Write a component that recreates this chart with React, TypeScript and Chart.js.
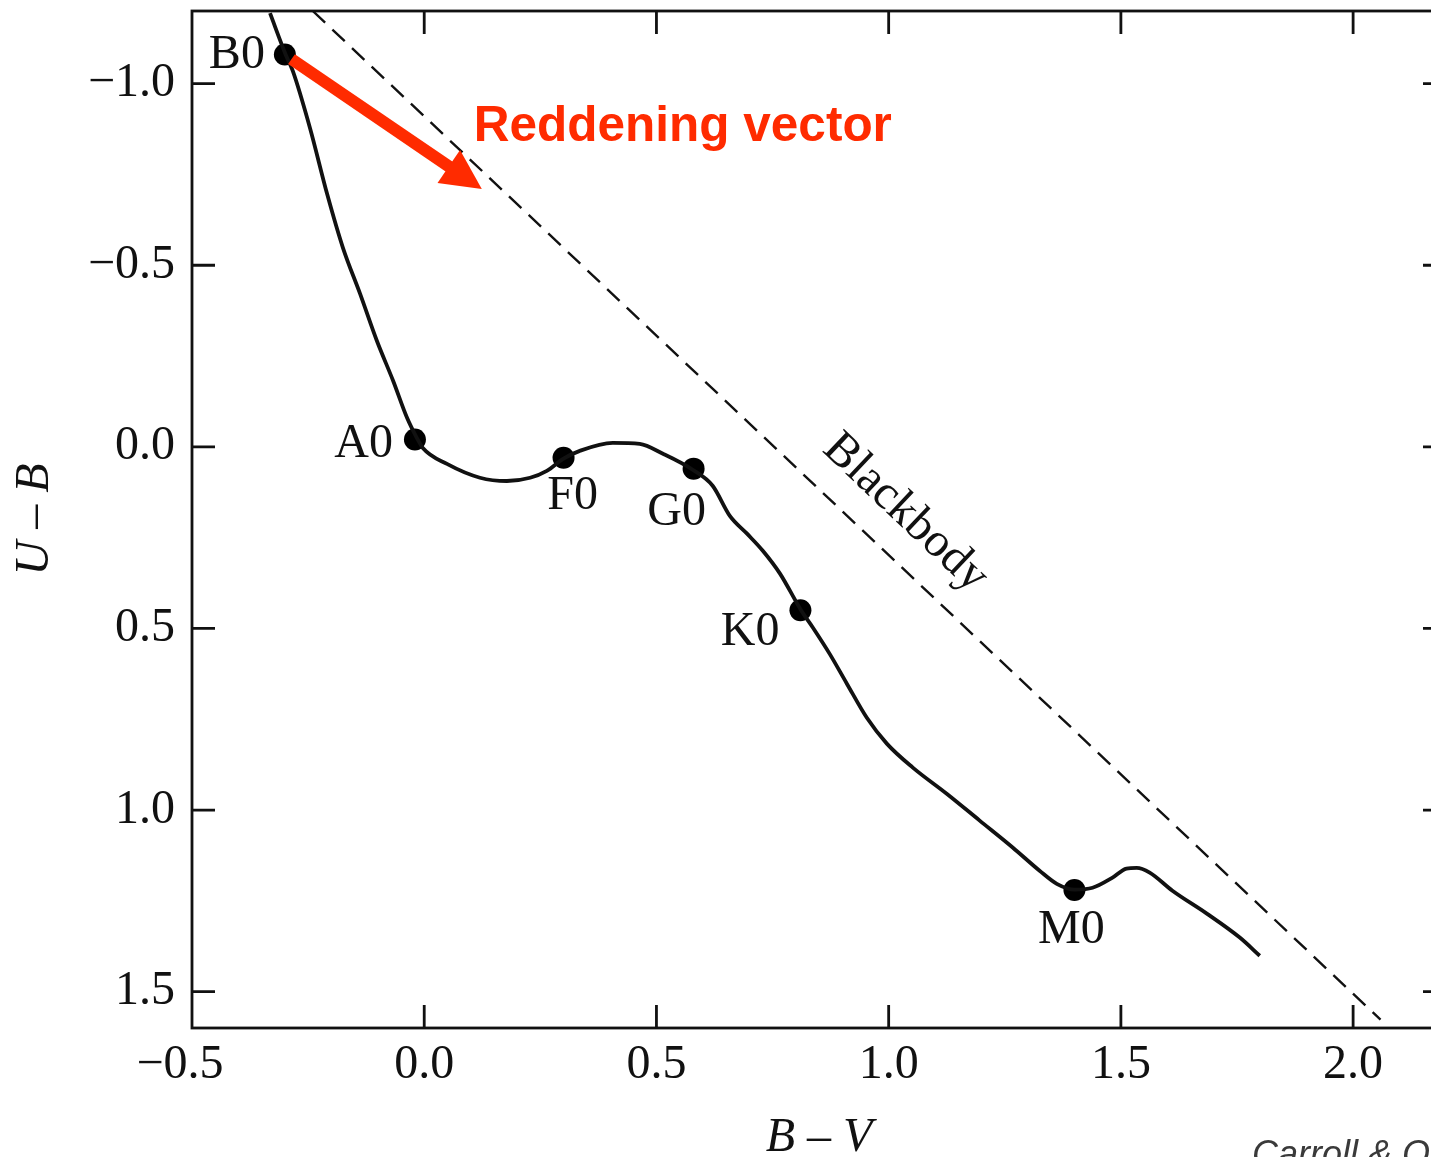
import { useEffect, useRef } from "react";
import { Chart, registerables } from "chart.js";

Chart.register(...registerables);

// Main-sequence two-colour track (B−V, U−B)
const TRACK_BV = [
  -0.332, -0.298, -0.283, -0.246, -0.209, -0.175, -0.138, -0.102, -0.067, -0.037,
  -0.016, -0.003, 0.049, 0.12, 0.178, 0.228, 0.264, 0.299, 0.335, 0.406,
  0.464, 0.514, 0.578, 0.621, 0.658, 0.695, 0.729, 0.766, 0.811, 0.837,
  0.873, 0.91, 0.953, 0.996, 1.052, 1.125, 1.196, 1.267, 1.325, 1.362,
  1.401, 1.439, 1.482, 1.512, 1.534, 1.562, 1.611, 1.685, 1.756, 1.799,
];
const TRACK_UB = [
  -1.194, -1.079, -1.035, -0.878, -0.696, -0.548, -0.421, -0.292, -0.182, -0.08,
  -0.025, 0.003, 0.047, 0.085, 0.094, 0.085, 0.066, 0.033, 0.011, -0.011,
  -0.008, 0.019, 0.063, 0.107, 0.19, 0.239, 0.286, 0.349, 0.449, 0.498,
  0.57, 0.652, 0.746, 0.817, 0.883, 0.955, 1.029, 1.103, 1.167, 1.203,
  1.219, 1.214, 1.186, 1.161, 1.159, 1.172, 1.222, 1.285, 1.351, 1.401,
];

// Spectral class markers
const CLASS_NAMES = ["B0", "A0", "F0", "G0", "K0", "M0"];
const CLASS_BV = [-0.3, -0.02, 0.3, 0.58, 0.81, 1.4];
const CLASS_UB = [-1.08, -0.02, 0.03, 0.06, 0.45, 1.22];

// Blackbody line
const BLACKBODY_BV = [-0.24, 2.059];
const BLACKBODY_UB = [-1.2, 1.577];

// Reddening vector (from B0)
const REDDENING_FROM = [-0.3, -1.08];
const REDDENING_TO = [0.124, -0.71];

// Axis ticks
const X_TICKS = [-0.5, 0, 0.5, 1.0, 1.5, 2.0];
const Y_TICKS = [-1.0, -0.5, 0, 0.5, 1.0, 1.5];

// Label placement around each marker: [dx, dy, align]
const CLASS_LABEL_PLACEMENT: Record<string, [number, number, CanvasTextAlign]> = {
  B0: [-20, 1, "right"],
  A0: [-22, 5, "right"],
  F0: [9, 39, "center"],
  G0: [-17, 44, "center"],
  K0: [-21, 22, "right"],
  M0: [-3, 40, "center"],
};

const SERIF = "'Liberation Serif', 'Times New Roman', serif";
const SANS = "'Liberation Sans', Arial, Helvetica, sans-serif";
const INK = "#111";
const RED = "#ff2b00";
const TICK_LEN = 23;

const fmt = (v: number) => (v < 0 ? "\u2212" : "") + Math.abs(v).toFixed(1);

const framePlugin = {
  id: "frameTicks",
  afterDraw(chart: any) {
    const { ctx, chartArea: a, scales } = chart;
    const xs = scales.x;
    const ys = scales.y;
    ctx.save();
    ctx.strokeStyle = INK;
    ctx.lineWidth = 2.8;
    ctx.strokeRect(a.left, a.top, a.right - a.left, a.bottom - a.top);
    ctx.beginPath();
    for (const v of X_TICKS) {
      const px = xs.getPixelForValue(v);
      if (px <= a.left + 1 || px >= a.right - 1) continue;
      ctx.moveTo(px, a.bottom);
      ctx.lineTo(px, a.bottom - TICK_LEN);
      ctx.moveTo(px, a.top);
      ctx.lineTo(px, a.top + TICK_LEN);
    }
    for (const v of Y_TICKS) {
      const py = ys.getPixelForValue(v);
      if (py <= a.top + 1 || py >= a.bottom - 1) continue;
      ctx.moveTo(a.left, py);
      ctx.lineTo(a.left + TICK_LEN, py);
      ctx.moveTo(a.right, py);
      ctx.lineTo(a.right - TICK_LEN, py);
    }
    ctx.stroke();
    ctx.restore();
  },
};

const annotationPlugin = {
  id: "annotations",
  afterDatasetsDraw(chart: any) {
    const { ctx, scales } = chart;
    const xs = scales.x;
    const ys = scales.y;
    ctx.save();

    // spectral class labels
    ctx.fillStyle = INK;
    ctx.font = `48px ${SERIF}`;
    ctx.textBaseline = "middle";
    CLASS_NAMES.forEach((name, i) => {
      const [dx, dy, align] = CLASS_LABEL_PLACEMENT[name];
      ctx.textAlign = align;
      ctx.fillText(name, xs.getPixelForValue(CLASS_BV[i]) + dx, ys.getPixelForValue(CLASS_UB[i]) + dy);
    });

    // blackbody label, parallel to the dashed line
    const bx0 = xs.getPixelForValue(BLACKBODY_BV[0]);
    const by0 = ys.getPixelForValue(BLACKBODY_UB[0]);
    const bx1 = xs.getPixelForValue(BLACKBODY_BV[1]);
    const by1 = ys.getPixelForValue(BLACKBODY_UB[1]);
    const ang = Math.atan2(by1 - by0, bx1 - bx0);
    const len = Math.hypot(bx1 - bx0, by1 - by0);
    const ux = Math.cos(ang), uy = Math.sin(ang);
    const nx = uy, ny = -ux;
    const along = len * 0.528;
    const cx = bx0 + ux * along + nx * 42;
    const cy = by0 + uy * along + ny * 42;
    ctx.save();
    ctx.translate(cx, cy);
    ctx.rotate(ang);
    ctx.textAlign = "center";
    ctx.textBaseline = "middle";
    ctx.fillText("Blackbody", 0, 0);
    ctx.restore();

    // reddening vector arrow
    const sx = xs.getPixelForValue(REDDENING_FROM[0]);
    const sy = ys.getPixelForValue(REDDENING_FROM[1]);
    const tx = xs.getPixelForValue(REDDENING_TO[0]);
    const ty = ys.getPixelForValue(REDDENING_TO[1]);
    const a2 = Math.atan2(ty - sy, tx - sx);
    const dxu = Math.cos(a2), dyu = Math.sin(a2);
    const headLen = 40, headHalf = 20;
    const baseX = tx - dxu * headLen, baseY = ty - dyu * headLen;
    ctx.strokeStyle = RED;
    ctx.fillStyle = RED;
    ctx.lineWidth = 12;
    ctx.lineCap = "butt";
    ctx.beginPath();
    ctx.moveTo(sx + dxu * 8, sy + dyu * 8);
    ctx.lineTo(baseX + dxu * 2, baseY + dyu * 2);
    ctx.stroke();
    ctx.beginPath();
    ctx.moveTo(tx, ty);
    ctx.lineTo(baseX - dyu * headHalf, baseY + dxu * headHalf);
    ctx.lineTo(baseX + dyu * headHalf, baseY - dxu * headHalf);
    ctx.closePath();
    ctx.fill();

    ctx.font = `bold 49.5px ${SANS}`;
    ctx.textAlign = "left";
    ctx.textBaseline = "alphabetic";
    ctx.fillText("Reddening vector", tx - 8, ty - 48);

    ctx.restore();
  },
  afterDraw(chart: any) {
    const { ctx } = chart;
    ctx.save();
    ctx.fillStyle = "#3a3a3a";
    ctx.font = `italic 36px ${SANS}`;
    ctx.textAlign = "left";
    ctx.textBaseline = "alphabetic";
    ctx.fillText("Carroll & Ostlie", 1252, 1166);
    ctx.restore();
  },
};

export default function App() {
  const canvasRef = useRef<HTMLCanvasElement | null>(null);

  useEffect(() => {
    const canvas = canvasRef.current;
    if (!canvas) return;
    const chart = new Chart(canvas, {
      type: "line",
      data: {
        datasets: [
          {
            label: "Blackbody",
            data: BLACKBODY_BV.map((x, i) => ({ x, y: BLACKBODY_UB[i] })),
            borderColor: INK,
            borderWidth: 2.4,
            borderDash: [17, 10],
            pointRadius: 0,
            tension: 0,
          },
          {
            label: "Main sequence",
            data: TRACK_BV.map((x, i) => ({ x, y: TRACK_UB[i] })),
            borderColor: INK,
            borderWidth: 3.8,
            pointRadius: 0,
            cubicInterpolationMode: "monotone",
          },
          {
            label: "Spectral classes",
            data: CLASS_BV.map((x, i) => ({ x, y: CLASS_UB[i] })),
            showLine: false,
            pointRadius: 11,
            pointBorderWidth: 0,
            pointBackgroundColor: "#000",
            pointBorderColor: "#000",
          },
        ],
      },
      options: {
        responsive: false,
        animation: false,
        events: [],
        layout: { padding: { top: 10, right: 24, left: 0, bottom: 0 } },
        plugins: { legend: { display: false }, tooltip: { enabled: false } },
        scales: {
          x: {
            type: "linear",
            position: "bottom",
            min: -0.5,
            max: 2.2,
            grid: { display: false, drawTicks: false },
            border: { display: false },
            afterFit: (s: any) => {
              s.height = 172;
              s.paddingLeft = 0;
              s.paddingRight = 0;
            },
            afterBuildTicks: (s: any) => {
              s.ticks = X_TICKS.map((value) => ({ value }));
            },
            ticks: {
              padding: 9,
              color: INK,
              font: { family: SERIF, size: 48 },
              maxRotation: 0,
              autoSkip: false,
              callback: (v: any) => fmt(Number(v)) + (Number(v) < 0 ? "\u2002" : ""),
            },
            title: {
              display: true,
              text: "B \u2013 V",
              color: INK,
              font: { family: SERIF, size: 48, style: "italic" },
              padding: { top: 0, bottom: 33 },
            },
          },
          y: {
            type: "linear",
            position: "left",
            reverse: true,
            min: -1.2,
            max: 1.6,
            grid: { display: false, drawTicks: false },
            border: { display: false },
            afterFit: (s: any) => {
              s.width = 192;
              s.paddingTop = 0;
              s.paddingBottom = 0;
            },
            afterBuildTicks: (s: any) => {
              s.ticks = Y_TICKS.map((value) => ({ value }));
            },
            ticks: {
              padding: 17,
              color: INK,
              font: { family: SERIF, size: 48 },
              autoSkip: false,
              callback: (v: any) => fmt(Number(v)),
            },
            title: {
              display: true,
              text: "U \u2013 B",
              color: INK,
              font: { family: SERIF, size: 48, style: "italic" },
              padding: { top: 7, bottom: 0 },
            },
          },
        },
      },
      plugins: [framePlugin, annotationPlugin],
    } as any);
    return () => chart.destroy();
  }, []);

  return (
    <div
      style={{
        position: "absolute",
        left: 0,
        top: 0,
        width: 1431,
        height: 1157,
        overflow: "hidden",
        background: "#fff",
      }}
    >
      <canvas ref={canvasRef} width={1470} height={1200} style={{ display: "block" }} />
    </div>
  );
}
